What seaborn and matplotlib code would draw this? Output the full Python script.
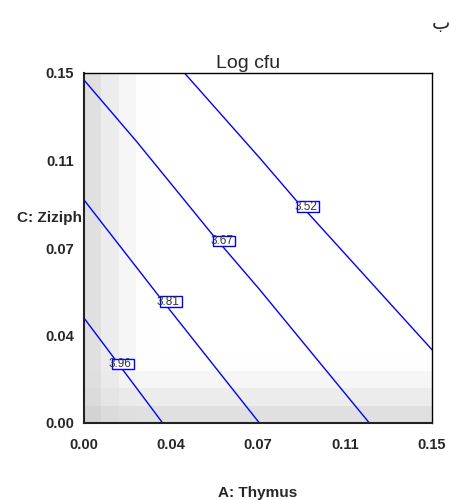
import numpy as np
import pandas as pd
import matplotlib
matplotlib.use("Agg")
import matplotlib.pyplot as plt
from matplotlib.patches import Rectangle
import seaborn as sns

# ---- data ----
x_ticks = [0.0, 0.0375, 0.075, 0.1125, 0.15]
x_tick_labels = ["0.00", "0.04", "0.07", "0.11", "0.15"]
y_ticks = [0.0, 0.0375, 0.075, 0.1125, 0.15]
y_tick_labels = ["0.00", "0.04", "0.07", "0.11", "0.15"]

levels = ["3.96", "3.81", "3.67", "3.52"]
line_396_x = [0.0, 0.0227, 0.0339]
line_396_y = [0.045, 0.0149, 0.0]
line_381_x = [0.0, 0.0325, 0.0756]
line_381_y = [0.0956, 0.0541, 0.0]
line_367_x = [0.0, 0.0227, 0.0555, 0.0756, 0.123]
line_367_y = [0.147, 0.1206, 0.0806, 0.0573, 0.0]
line_352_x = [0.0433, 0.0759, 0.0917, 0.096, 0.1501]
line_352_y = [0.15, 0.1134, 0.0951, 0.0906, 0.0313]

label_x = [0.0166, 0.0374, 0.0604, 0.0966]
label_y = [0.0253, 0.0520, 0.0780, 0.0928]

# background shading (darkness per cell band, from the axes outward)
col_dark = [31, 19, 9, 1]
row_dark = [31, 19, 9, 1]
n_cells = 20

sns.set_style("white")
plt.rcParams["font.family"] = ["Liberation Sans", "DejaVu Sans"]

fig = plt.figure(figsize=(4.51, 5.0), dpi=100)
ax = fig.add_axes([84 / 451, 1 - 423 / 500, 348 / 451, 350 / 500])

# shading grid
dx = np.zeros(n_cells); dx[:len(col_dark)] = col_dark
dy = np.zeros(n_cells); dy[:len(row_dark)] = row_dark
dark = np.sqrt(dy[:, None] ** 2 + dx[None, :] ** 2)
grey = (255 - dark) / 255.0
ax.imshow(grey, cmap="gray", vmin=0, vmax=1, origin="lower",
          extent=[0, 0.15, 0, 0.15], interpolation="nearest", aspect="auto", zorder=0)

lines = [(line_396_x, line_396_y), (line_381_x, line_381_y),
         (line_367_x, line_367_y), (line_352_x, line_352_y)]
for lx, ly in lines:
    sns.lineplot(x=lx, y=ly, sort=False, estimator=None, color="#0000ff",
                 linewidth=1.0, ax=ax, zorder=2)

bw = 22 / 348 * 0.15
bh = 10.5 / 350 * 0.15
for lev, cx, cy in zip(levels, label_x, label_y):
    ax.add_patch(Rectangle((cx - bw / 2, cy - bh / 2), bw, bh, facecolor="white",
                           edgecolor="#0000ff", linewidth=1.0, zorder=3))
    ax.text(cx - bw / 2 - 0.0013, cy - 0.0001, lev, ha="left", va="center",
            fontsize=8.5, color="#333333", zorder=4)

ax.set_xlim(0, 0.15)
ax.set_ylim(0, 0.15)
ax.set_xticks(x_ticks)
ax.set_xticklabels(x_tick_labels, fontsize=10.5, fontweight="bold")
ax.set_yticks(y_ticks)
ax.set_yticklabels(y_tick_labels, fontsize=10.5, fontweight="bold")
ax.tick_params(axis="both", direction="out", length=6.5, width=1.0, color="black")
ax.tick_params(axis="x", pad=4)
ax.tick_params(axis="y", pad=0.5)
ax.set_xlabel("")
ax.set_ylabel("")

for side in ["top", "right"]:
    ax.spines[side].set_color("black")
    ax.spines[side].set_linewidth(1.0)
for side in ["left", "bottom"]:
    ax.spines[side].set_color("#222222")
    ax.spines[side].set_linewidth(1.5)
for s in ax.spines.values():
    s.set_zorder(5)

fig.text(248.5 / 451, 1 - 68 / 500, "Log cfu", ha="center", va="baseline", fontsize=14)
fig.text(258 / 451, 1 - 496.5 / 500, "A: Thymus", ha="center", va="baseline",
         fontsize=11, fontweight="bold")
fig.text(82 / 451, 1 - 221.7 / 500, "C: Ziziph", ha="right", va="baseline",
         fontsize=11, fontweight="bold")
fig.text(450 / 451, 1 - 29 / 500, "ب", ha="right", va="baseline", fontsize=14,
         family=["DejaVu Sans"])

fig.savefig("out.png", dpi=100)
